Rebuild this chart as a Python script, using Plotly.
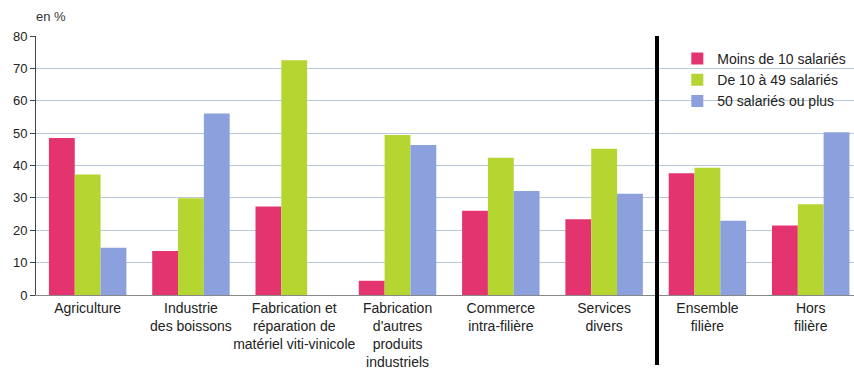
import plotly.graph_objects as go

categories = ["Agriculture", "Industrie<br>des boissons", "Fabrication et<br>réparation de<br>matériel viti-vinicole",
              "Fabrication<br>d'autres<br>produits<br>industriels", "Commerce<br>intra-filière", "Services<br>divers",
              "Ensemble<br>filière", "Hors<br>filière"]
series_names = ["Moins de 10 salariés", "De 10 à 49 salariés", "50 salariés ou plus"]
moins10 = [48.5, 13.6, 27.3, 4.4, 26.0, 23.4, 37.6, 21.5]
de10a49 = [37.2, 29.9, 72.5, 49.4, 42.4, 45.2, 39.3, 28.0]
plus50 = [14.6, 56.1, None, 46.3, 32.1, 31.3, 22.9, 50.3]
colors = ["#e3346f", "#b5d631", "#8ba0dc"]
y_ticks = [0, 10, 20, 30, 40, 50, 60, 70, 80]

font = "Liberation Sans, Arial, sans-serif"
fig = go.Figure()
for name, vals, c in zip(series_names, [moins10, de10a49, plus50], colors):
    fig.add_trace(go.Bar(x=list(range(len(categories))), y=vals, name=name, marker_color=c,
                         marker_line_width=0))

fig.add_shape(type="line", xref="x", yref="paper", x0=5.512, x1=5.512, y0=-0.27, y1=1.0,
              line=dict(color="black", width=4))
fig.add_annotation(text="en %", xref="paper", yref="paper", x=0, y=1.0, xshift=-2, yshift=10,
                   xanchor="left", yanchor="bottom", showarrow=False,
                   font=dict(family=font, size=13, color="#333"))

fig.update_layout(
    width=854, height=374,
    margin=dict(l=36, r=0, t=36, b=79),
    paper_bgcolor="white", plot_bgcolor="white",
    barmode="group", bargap=0.25, bargroupgap=0,
    font=dict(family=font, size=13, color="#222"),
    legend=dict(x=0.784, y=0.973, xanchor="left", yanchor="top", bgcolor="rgba(0,0,0,0)",
                font=dict(family=font, size=14, color="#222"), tracegroupgap=0),
    xaxis=dict(tickmode="array", tickvals=list(range(len(categories))), ticktext=categories,
               range=[-0.5, 7.419], showline=True, linecolor="#888", linewidth=1,
               ticks="", showgrid=False, tickangle=0, automargin=False,
               tickfont=dict(family=font, size=14, color="#222")),
    yaxis=dict(range=[0, 80], tickvals=y_ticks, showline=True, linecolor="#444", linewidth=1,
               ticks="outside", ticklen=5, tickcolor="#444", gridcolor="#b9c9d8", gridwidth=1,
               zeroline=False, automargin=False, tickfont=dict(family=font, size=13, color="#222")),
    showlegend=True,
)
fig.write_html("out.html")
